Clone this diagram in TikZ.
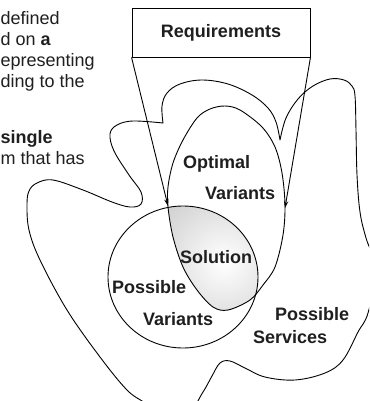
\documentclass[tikz,border=0pt]{standalone}
\usepackage{fontspec}
\setmainfont{Liberation Sans}
\usetikzlibrary{arrows.meta}
\tikzset{
  outline/.style={draw=black, line width=0.9pt, line join=round},
  arr/.style={draw=black, line width=0.9pt, -{Stealth[length=7pt,width=4.5pt]}},
  lbl/.style={anchor=base west, inner sep=0pt, text=black!88, font=\fontsize{18}{21}\selectfont\bfseries},
  prose/.style={anchor=base west, inner sep=0pt, text=black!88, font=\fontsize{18}{21}\selectfont},
  reqbox/.style={draw=black, line width=0.9pt, minimum width=178pt, minimum height=49pt, inner sep=0pt,
    font=\fontsize{18}{21}\selectfont\bfseries, text=black!88}
}
\begin{document}
\begin{tikzpicture}[x=1pt,y=-1pt]
\clip (0,0) rectangle (369,401);
\fill[white] (0,0) rectangle (369,401);

% running text at the left margin
\node[prose] (t1) at (0.5,25) {defined};
\node[prose] (t2) at (0.5,46) {d on \textbf{a}};
\node[prose] (t3) at (0.5,67) {epresenting};
\node[prose] (t4) at (0.5,88) {ding to the};
\node[prose] (t5) at (0.5,143) {\bfseries single};
\node[prose] (t6) at (0.5,164) {m that has};

% the set of possible services
\draw[outline]
  plot[smooth, tension=0.6] coordinates {(163,123) (162,106) (167,93) (180,84) (202,80) (228,84) (252,95) (268,108) (276,122) (280,140)}
  -- plot[smooth, tension=0.6] coordinates {(280,140) (286,118) (298,99) (313,86) (330,79) (344,80) (352,86) (355,96) (356,130) (357,175) (360,212) (366,238) (376,270) (368,313) (358,332) (343,360) (325,373) (295,380) (265,377) (245,368) (230,361) (220,363) (212,376) (203,392) (185,418) (160,415) (145,403) (127,390) (100,357) (67,310) (40,260) (29,230) (27,205) (29,191) (37,183) (53,180) (83,190) (112,202) (130,207) (141,204) (141,192) (129,175) (114,151) (110,134) (117,125) (133,121) (163,123)}
  -- cycle;

% shaded solution: optimal variants within possible variants
\begin{scope}
  \clip (183,277) ellipse [x radius=75, y radius=71];
  \clip plot[smooth cycle, tension=0.55] coordinates {(168,207) (168,187) (173,163) (183,140) (197,118) (210,109) (225,106) (240,110) (262,127) (275,147) (282,173) (285,205) (283,235) (275,267) (263,285) (250,300) (228,310) (213,307) (197,290) (183,267) (173,237)};
  \shade[inner color=white, outer color=black!30] (224,262) circle (130);
\end{scope}

% possible variants
\draw[outline] (183,277) ellipse [x radius=75, y radius=71];

% optimal variants
\draw[outline] plot[smooth cycle, tension=0.55] coordinates {(168,207) (168,187) (173,163) (183,140) (197,118) (210,109) (225,106) (240,110) (262,127) (275,147) (282,173) (285,205) (283,235) (275,267) (263,285) (250,300) (228,310) (213,307) (197,290) (183,267) (173,237)};

% requirements box and its two arrows
\node[reqbox] (req) at (221,32.5) {Requirements};
\coordinate (tipL) at (168,206);
\coordinate (tipR) at (285,208);
\draw[arr] (req.south west) -- (tipL);
\draw[arr] (req.south east) -- (tipR);

% labels
\node[lbl] (opt) at (183,168) {Optimal};
\node[lbl] (optv) at (205,199) {Variants};
\node[lbl] (sol) at (180,263) {Solution};
\node[lbl] (pos) at (112,293) {Possible};
\node[lbl] (posv) at (143,325) {Variants};
\node[lbl] (srv1) at (275,320) {Possible};
\node[lbl] (srv2) at (253,343) {Services};
\end{tikzpicture}
\end{document}
